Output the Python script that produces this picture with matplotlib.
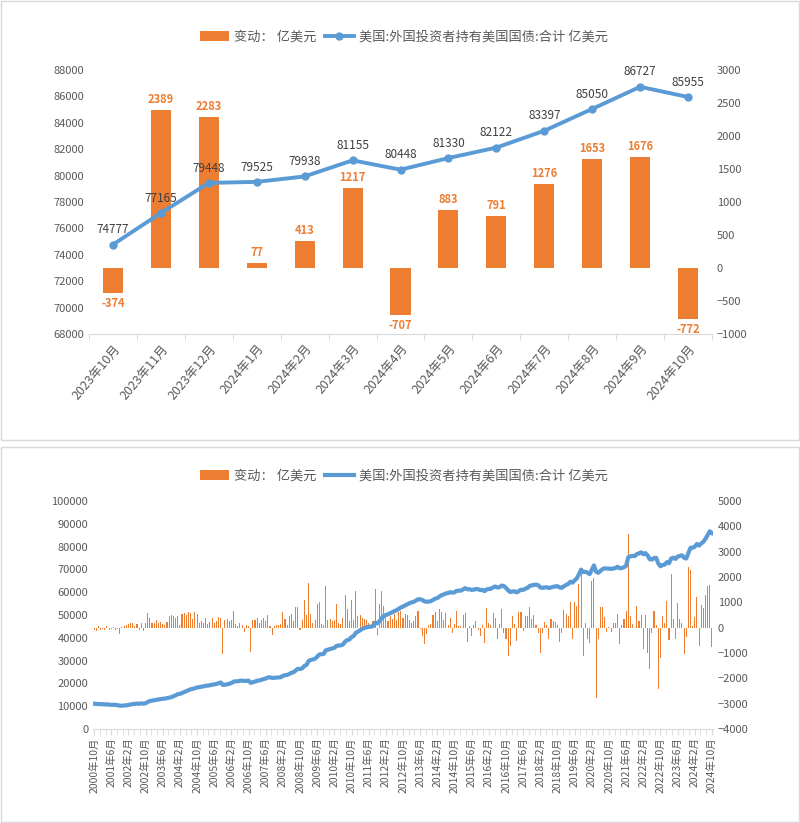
import numpy as np
import matplotlib
matplotlib.use('Agg')
import matplotlib.pyplot as plt
from matplotlib.lines import Line2D
from matplotlib.patches import Patch, Rectangle

plt.rcParams['font.family'] = ['Noto Sans CJK SC', 'DejaVu Sans']

ORANGE = '#ED7D31'
BLUE = '#5B9BD5'
GREY = '#595959'
AXIS = '#D9D9D9'

bar_name = '变动： 亿美元'
line_name = '美国:外国投资者持有美国国债:合计 亿美元'

# monthly change, 亿美元, 2000-10 .. 2024-10
long_change = [
    -80, -120, 60,                                                   # 2000
    -100, -60, -90, 50, -110, -70, 40, -90, -60, -260, 30, 60,       # 2001
    120, 160, 200, 180, 80, 150, -90, 200, -150, 200, 570, 400,      # 2002
    180, 200, 300, 180, 220, 150, 100, 240, 450, 500, 480, 380,      # 2003
    480, 120, 520, 560, 500, 620, 580, 350, 600, 520, 180, 250,      # 2004
    200, 380, 150, 220, 400, 180, 250, 420, 380, -1050, 300, 350,    # 2005
    250, 320, 640, 150, 80, 200, 120, -190, 100, 60, -980, 300,      # 2006
    320, 380, 180, 300, 400, 250, 500, 80, -280, 60, 120, 90,        # 2007
    150, 630, 330, 120, 450, 520, 250, 800, 800, -80, 300, 1090,     # 2008
    500, 1760, 530, 200, 300, 930, 1000, 150, 100, 1660, 300, 350,   # 2009
    250, 300, 930, 200, 150, 400, 1290, 730, 250, 1090, 300, 1430,   # 2010
    450, 500, 400, 350, 300, 200, 100, 250, 1520, -280, 930, 1430,   # 2011
    860, 450, 250, 470, 350, 530, 300, 600, 660, 400, 530, 500,      # 2012
    300, 200, 270, 470, 660, -50, -320, -650, -260, 100, 150, 500,   # 2013
    600, 250, 730, 620, 300, 570, 100, 400, -200, 150, 660, 50,      # 2014
    80, 500, 570, -560, 70, -320, 120, 270, -100, -320, 90, -590,    # 2015
    770, 200, 100, 570, 400, -450, 150, 730, -200, -450, -1120, -720,  # 2016
    470, 150, -520, 630, 600, -130, 470, 470, 800, 350, 500, 100,    # 2017
    -220, -990, -200, 230, 100, -450, 330, 250, 220, 120, -560, -200,  # 2018
    700, 540, 470, 1000, -430, 1000, 860, 1720, 2100, -1120, 200, -430,  # 2019
    -610, 1850, 1950, -2770, -450, 800, 800, 430, -170, 20, -170, 200,   # 2020
    200, 530, -650, 100, 330, 660, 3700, 470, 140, -30, 860, 270,    # 2021
    500, -860, 500, -990, -1640, -200, 660, 100, -2430, -1180, 470, 200,  # 2022
    1060, -480, 2120, 330, -450, 970, 360, 200, -1050, -374, 2389, 2283,  # 2023
    77, 413, 1217, -707, 883, 791, 1276, 1653, 1676, -772,           # 2024
]

# total holdings, 亿美元, 2000-10 .. 2024-10
long_total = [
    11100, 11000, 10950,                                                         # 2000
    10900, 10850, 10750, 10800, 10700, 10600, 10650, 10550, 10450, 10200, 10250, 10300,  # 2001
    10400, 10550, 10750, 10900, 11000, 11150, 11050, 11250, 11100, 11300, 11850, 12250,  # 2002
    12450, 12600, 12800, 12950, 13100, 13250, 13350, 13550, 13750, 13950, 14350, 14750,  # 2003
    15300, 15400, 15800, 16200, 16600, 17000, 17400, 17600, 17900, 18200, 18350, 18550,  # 2004
    18700, 18950, 19050, 19200, 19400, 19550, 19750, 20050, 20400, 19350, 19400, 19600,  # 2005
    19850, 20150, 20750, 20900, 20950, 21150, 21250, 21050, 21150, 21200, 20250, 20500,  # 2006
    20800, 21150, 21300, 21600, 21950, 22150, 22600, 22650, 22400, 22450, 22550, 22600,  # 2007
    22700, 23300, 23600, 23700, 24150, 24650, 24900, 25650, 26400, 26300, 26600, 27650,  # 2008
    28100, 29800, 30300, 30500, 30800, 31700, 32700, 32800, 32900, 34500, 34800, 35100,  # 2009
    35350, 35600, 36450, 36600, 36700, 37050, 38300, 39000, 39200, 40300, 40800, 42200,  # 2010
    42700, 43300, 43900, 44300, 44600, 44800, 44900, 45100, 46600, 46300, 47200, 48600,  # 2011
    49500, 50000, 50300, 50800, 51200, 51700, 52100, 52700, 53300, 53700, 54200, 54700,  # 2012
    55200, 55500, 55800, 56300, 56900, 56900, 56600, 56000, 55800, 55900, 56100, 56600,  # 2013
    57200, 57400, 58100, 58700, 59000, 59500, 59600, 60000, 59800, 59950, 60600, 60650,  # 2014
    60700, 61200, 61800, 61250, 61300, 61000, 61100, 61400, 61300, 60950, 61050, 60450,  # 2015
    61200, 61400, 61500, 62100, 62500, 62050, 62200, 62900, 62700, 61900, 60800, 60100,  # 2016
    60300, 60400, 59900, 60500, 61100, 61000, 61500, 61900, 62700, 63000, 63200, 63300,  # 2017
    63100, 62100, 61900, 62100, 62200, 61800, 62100, 62350, 62550, 62650, 62100, 61900,  # 2018
    62600, 63150, 63600, 64600, 64200, 65200, 66050, 67800, 69900, 68800, 69000, 68550,  # 2019
    67950, 69800, 71750, 68950, 68500, 69300, 70100, 70500, 70350, 70350, 70200, 70400,  # 2020
    70600, 71150, 70500, 70600, 70950, 71600, 75300, 75750, 75900, 75850, 76700, 77000,  # 2021
    77500, 76650, 77150, 76150, 74500, 74300, 74950, 75050, 72600, 71400, 71900, 72100,  # 2022
    73200, 72700, 74800, 75100, 74600, 75600, 75900, 76200, 75150, 74777, 77165, 79448,  # 2023
    79525, 79938, 81155, 80448, 81330, 82122, 83397, 85050, 86727, 85955,               # 2024
]

long_months = [f'{y}年{m}月' for y in range(2000, 2025) for m in range(1, 13)
               if (2000, 10) <= (y, m) <= (2024, 10)]

# top chart uses the last 13 months
recent_months = long_months[-13:]
recent_change = long_change[-13:]
recent_total = long_total[-13:]


def clean(ax):
    for s in ax.spines.values():
        s.set_visible(False)
    ax.tick_params(axis='y', length=0, colors=GREY, labelsize=8)


fig = plt.figure(figsize=(8, 8.23), dpi=100)

# chart frames
fig.patches.append(Rectangle((0.001, 0.4654), 0.998, 0.5335, transform=fig.transFigure,
                             fill=False, edgecolor=AXIS, lw=1))
fig.patches.append(Rectangle((0.001, 0.001), 0.998, 0.4559, transform=fig.transFigure,
                             fill=False, edgecolor=AXIS, lw=1))

# ---- top chart ----
ax1 = fig.add_axes([89 / 800, 489 / 823, 623 / 800, 264 / 823])
ax1b = ax1.twinx()
x1 = np.arange(len(recent_months))
ax1.bar(x1, recent_change, width=0.42, color=ORANGE, zorder=2)
ax1.set_ylim(-1000, 3000)
ax1.set_yticks(range(-1000, 3001, 500))
ax1.yaxis.tick_right()
ax1.set_xlim(-0.5, len(recent_months) - 0.5)
clean(ax1)
ax1.spines['bottom'].set_visible(True)
ax1.spines['bottom'].set_color(AXIS)
ax1.set_xticks(x1)
ax1.set_xticklabels(recent_months, rotation=50, ha='right', rotation_mode='anchor',
                    fontsize=9, color=GREY)
ax1.set_xticks(np.arange(-0.5, len(recent_months)), minor=True)
ax1.tick_params(axis='x', which='major', length=0, pad=6)
ax1.tick_params(axis='x', which='minor', length=4, color=AXIS)

for i, v in enumerate(recent_change):
    off = 3 if v >= 0 else -3
    ax1.annotate(str(v), (i, v), xytext=(0, off), textcoords='offset points',
                 ha='center', va='bottom' if v >= 0 else 'top',
                 color=ORANGE, fontsize=8, fontweight='bold')

ax1b.plot(x1, recent_total, color=BLUE, lw=2.8, marker='o', ms=5, zorder=3)
ax1b.set_ylim(68000, 88000)
ax1b.set_yticks(range(68000, 88001, 2000))
ax1b.yaxis.tick_left()
clean(ax1b)
for i, v in enumerate(recent_total):
    ax1b.annotate(str(v), (i, v), xytext=(0, 6), textcoords='offset points',
                  ha='center', va='bottom', color='#404040', fontsize=8.5)

fig.legend([Patch(facecolor=ORANGE),
            Line2D([], [], color=BLUE, lw=2.8, marker='o', ms=5)],
           [bar_name, line_name], loc='center', bbox_to_anchor=(0.505, 1 - 37 / 823),
           ncol=2, frameon=False, fontsize=9.5, labelcolor=GREY,
           handlelength=2.2, handletextpad=0.4, columnspacing=0.6)

# ---- bottom chart ----
ax2 = fig.add_axes([93 / 800, 94 / 823, 620 / 800, 228 / 823])
ax2b = ax2.twinx()
x2 = np.arange(len(long_months))
ax2.bar(x2, long_change, width=0.5, color=ORANGE, zorder=2)
ax2.set_ylim(-4000, 5000)
ax2.set_yticks(range(-4000, 5001, 1000))
ax2.yaxis.tick_right()
ax2.set_xlim(-0.5, len(long_months) - 0.5)
clean(ax2)
ax2.spines['bottom'].set_visible(True)
ax2.spines['bottom'].set_color(AXIS)
ax2.set_xticks(x2[::8])
ax2.set_xticklabels(long_months[::8], rotation=90, ha='center', va='top',
                    fontsize=7.5, color=GREY)
ax2.set_xticks(np.arange(0, len(long_months), 8 / 3), minor=True)
ax2.tick_params(axis='x', which='major', length=4, color=AXIS, pad=2)
ax2.tick_params(axis='x', which='minor', length=4, color=AXIS)

ax2b.plot(x2, long_total, color=BLUE, lw=3, zorder=3)
ax2b.set_ylim(0, 100000)
ax2b.set_yticks(range(0, 100001, 10000))
ax2b.yaxis.tick_left()
clean(ax2b)

fig.legend([Patch(facecolor=ORANGE), Line2D([], [], color=BLUE, lw=3)],
           [bar_name, line_name], loc='center', bbox_to_anchor=(0.505, 1 - 476 / 823),
           ncol=2, frameon=False, fontsize=9.5, labelcolor=GREY,
           handlelength=2.2, handletextpad=0.4, columnspacing=0.6)

fig.savefig('out.png', dpi=100)
